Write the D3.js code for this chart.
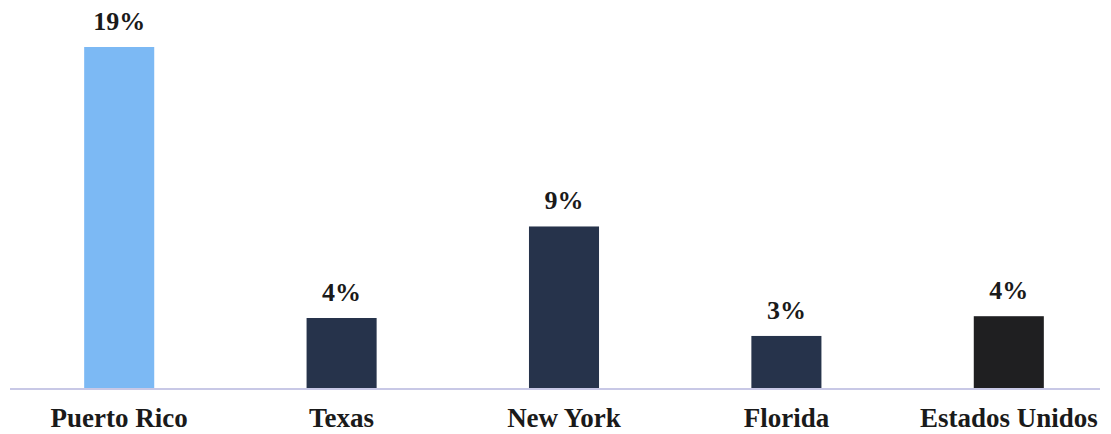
<!DOCTYPE html>
<html><head><meta charset="utf-8">
<script src="https://cdn.jsdelivr.net/npm/d3@7"></script>
<style>body{margin:0;background:#fff}svg{display:block}</style>
</head><body>
<svg id="c" width="1111" height="434"></svg>
<script>
const categories = ["Puerto Rico","Texas","New York","Florida","Estados Unidos"];
const values = [19, 3.9, 9, 2.9, 4.0];
const valueLabels = ["19%","4%","9%","3%","4%"];
const colors = ["#7cb9f4","#26334b","#26334b","#26334b","#1f1f21"];

const svg = d3.select("#c");
const x = d3.scaleBand().domain(categories).range([8,1120]).paddingInner(0.685).paddingOuter(0.3425);
const y = d3.scaleLinear().domain([0,19]).range([388,47]);

svg.append("line").attr("x1",10).attr("x2",1100).attr("y1",389).attr("y2",389)
  .attr("stroke","#c8c8e6").attr("stroke-width",2);

svg.selectAll("rect.bar").data(categories).join("rect").attr("class","bar")
  .attr("x",d=>x(d)).attr("width",x.bandwidth())
  .attr("y",(d,i)=>y(values[i])).attr("height",(d,i)=>y(0)-y(values[i]))
  .attr("fill",(d,i)=>colors[i]);

const font = "'Liberation Serif', 'DejaVu Serif', serif";
svg.selectAll("text.val").data(categories).join("text").attr("class","val")
  .attr("x",d=>x(d)+x.bandwidth()/2).attr("y",(d,i)=>y(values[i])-17)
  .attr("text-anchor","middle").attr("font-family",font).attr("font-weight","bold")
  .attr("font-size",26).attr("fill","#1a1a1a").text((d,i)=>valueLabels[i]);

const xAxis = d3.axisBottom(x).tickSize(0).tickPadding(0);
const g = svg.append("g").attr("transform","translate(0,408)").call(xAxis);
g.select(".domain").remove();
g.selectAll("text").attr("font-family",font).attr("font-weight","bold")
  .attr("font-size",27).attr("fill","#1a1a1a").attr("dy","0.71em");
</script>
</body></html>
